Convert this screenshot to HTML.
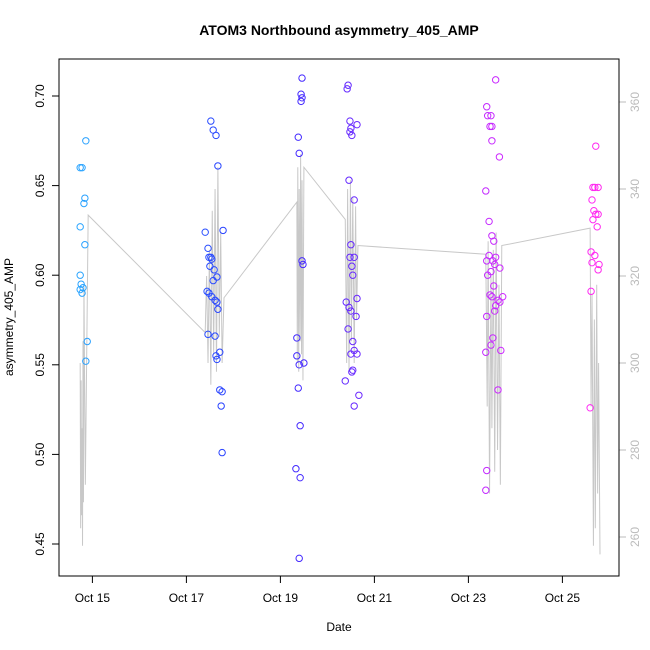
<!DOCTYPE html>
<html><head><meta charset="utf-8"><style>
body{margin:0;background:#fff}
svg{display:block;font-family:"Liberation Sans",sans-serif}
</style></head><body>
<svg id="chart" width="650" height="650">
<rect x="0" y="0" width="650" height="650" fill="#fff"/>
<text x="339" y="35" text-anchor="middle" font-weight="bold" font-size="14">ATOM3 Northbound asymmetry_405_AMP</text>
<text x="339" y="631" text-anchor="middle" font-size="12">Date</text>
<text transform="translate(13,317) rotate(-90)" text-anchor="middle" font-size="12">asymmetry_405_AMP</text>
<g id="grayg"></g>
<g id="ptsg"></g>
<g id="axes"></g>
<rect x="59" y="59" width="560" height="517" fill="none" stroke="#000"/>
</svg>
<script>
const xTicks=[15,17,19,21,23,25];
const xTickLabels=["Oct 15","Oct 17","Oct 19","Oct 21","Oct 23","Oct 25"];
const yTicks=[0.45,0.50,0.55,0.60,0.65,0.70];
const yTickLabels=["0.45","0.50","0.55","0.60","0.65","0.70"];
const y2Ticks=[260,280,300,320,340,360];
const ptDays=[14.86,14.74,14.78,14.84,14.82,14.74,14.84,14.74,14.76,14.80,14.74,14.78,14.89,14.86,
17.52,17.57,17.63,17.67,17.40,17.78,17.46,17.48,17.52,17.54,17.50,17.59,17.65,17.57,17.44,17.48,17.54,17.61,17.65,17.67,17.46,17.61,17.71,17.65,17.63,17.71,17.76,17.74,17.76,
19.46,19.44,19.46,19.44,19.38,19.40,19.46,19.48,19.35,19.35,19.40,19.50,19.38,19.42,19.33,19.42,19.40,
20.44,20.42,20.48,20.50,20.48,20.52,20.63,20.46,20.57,20.50,20.48,20.57,20.52,20.54,20.63,20.40,20.46,20.50,20.61,20.44,20.54,20.50,20.57,20.63,20.54,20.52,20.38,20.67,20.57,
23.58,23.39,23.41,23.48,23.46,23.50,23.50,23.66,23.37,23.44,23.50,23.54,23.58,23.44,23.52,23.39,23.56,23.67,23.48,23.41,23.54,23.46,23.50,23.73,23.67,23.63,23.58,23.56,23.39,23.52,23.48,23.37,23.69,23.63,23.39,23.37,
25.71,25.65,25.69,25.76,25.63,25.67,25.71,25.76,25.65,25.74,25.61,25.69,25.63,25.78,25.76,25.61,25.59];
const ptVals=[0.675,0.660,0.660,0.643,0.640,0.627,0.617,0.600,0.595,0.593,0.592,0.590,0.563,0.552,
0.686,0.681,0.678,0.661,0.624,0.625,0.615,0.610,0.610,0.609,0.605,0.603,0.599,0.597,0.591,0.590,0.588,0.586,0.585,0.581,0.567,0.566,0.557,0.553,0.555,0.536,0.535,0.527,0.501,
0.710,0.701,0.699,0.697,0.677,0.668,0.608,0.606,0.565,0.555,0.550,0.551,0.537,0.516,0.492,0.487,0.442,
0.706,0.704,0.686,0.682,0.680,0.678,0.684,0.653,0.642,0.617,0.610,0.610,0.605,0.600,0.587,0.585,0.582,0.580,0.577,0.570,0.563,0.556,0.558,0.556,0.547,0.546,0.541,0.533,0.527,
0.709,0.694,0.689,0.689,0.683,0.683,0.675,0.666,0.647,0.630,0.622,0.619,0.610,0.611,0.608,0.608,0.606,0.604,0.602,0.600,0.594,0.589,0.588,0.588,0.585,0.586,0.583,0.580,0.577,0.565,0.561,0.557,0.558,0.536,0.491,0.480,
0.672,0.649,0.649,0.649,0.642,0.636,0.634,0.634,0.631,0.627,0.613,0.611,0.607,0.606,0.603,0.591,0.526];
const grayDays=[14.74,14.75,14.76,14.77,14.78,14.79,14.80,14.81,14.82,14.85,14.91,
17.40,17.43,17.46,17.49,17.52,17.55,17.58,17.61,17.64,17.67,17.70,17.73,17.76,17.80,
19.35,19.36,19.37,19.39,19.40,19.42,19.43,19.45,19.46,19.48,19.50,
20.38,20.41,20.43,20.46,20.49,20.51,20.54,20.57,20.60,20.62,20.65,
23.37,23.40,23.42,23.45,23.48,23.50,23.53,23.56,23.59,23.62,23.65,23.68,23.71,
25.59,25.61,25.63,25.66,25.68,25.70,25.73,25.75,25.77,25.80];
const grayVals=[300,262,296,265,285,258,305,268,318,272,334,
307,320,300,326,295,335,302,340,298,345,306,330,300,315,
337,300,345,298,340,305,348,302,342,296,345,
333,300,340,298,342,305,338,300,336,310,327,
325,290,328,270,320,285,326,275,330,280,318,272,327,
331,290,316,258,310,262,318,270,300,256];
const NS='http://www.w3.org/2000/svg';
function xs(d){return 92.4+(d-15)*47;}
function ys(v){return 96+(0.70-v)/0.05*89.6;}
function ys2(r){return 537-(r-260)*87/20;}
function mk(t,a,p){const e=document.createElementNS(NS,t);for(const k in a)e.setAttribute(k,a[k]);p.appendChild(e);return e;}
const ax=document.getElementById('axes');
mk('line',{x1:xs(15),x2:xs(25),y1:576,y2:576,stroke:'#000'},ax);
xTicks.forEach((d,i)=>{
 const t=mk('line',{x1:xs(d),x2:xs(d),y1:576,y2:583,stroke:'#000'},ax);
 
 
 const l=mk('text',{x:xs(d),y:602,'text-anchor':'middle','font-size':12},ax);
 l.textContent=xTickLabels[i];
 
 
});
yTicks.forEach((v,i)=>{
 const t=mk('line',{x1:52,x2:59,y1:ys(v),y2:ys(v),stroke:'#000'},ax);
 
 
 const l=mk('text',{transform:`translate(44,${ys(v)}) rotate(-90)`,'text-anchor':'middle','font-size':12},ax);
 l.textContent=yTickLabels[i];
 
 
});
y2Ticks.forEach(r=>{
 const t=mk('line',{x1:619,x2:626,y1:ys2(r),y2:ys2(r),stroke:'#bbb'},ax);
 
 
 const l=mk('text',{transform:`translate(639,${ys2(r)}) rotate(-90)`,'text-anchor':'middle','font-size':12,fill:'#bbb'},ax);
 l.textContent=String(r);
 
 
});
const gg=document.getElementById('grayg');
const pl=mk('polyline',{points:grayDays.map((d,i)=>xs(d)+','+ys2(grayVals[i])).join(' '),fill:'none',stroke:'#c8c8c8','stroke-width':1},gg);


const pg=document.getElementById('ptsg');
ptDays.forEach((d,i)=>{
 const h=205+(d-14.7)/(25.8-14.7)*100;
 const c=mk('circle',{cx:xs(d),cy:ys(ptVals[i]),r:3.2,fill:'none',stroke:`hsl(${h},100%,58%)`,'stroke-width':1},pg);
 
 
});
</script>
</body></html>
